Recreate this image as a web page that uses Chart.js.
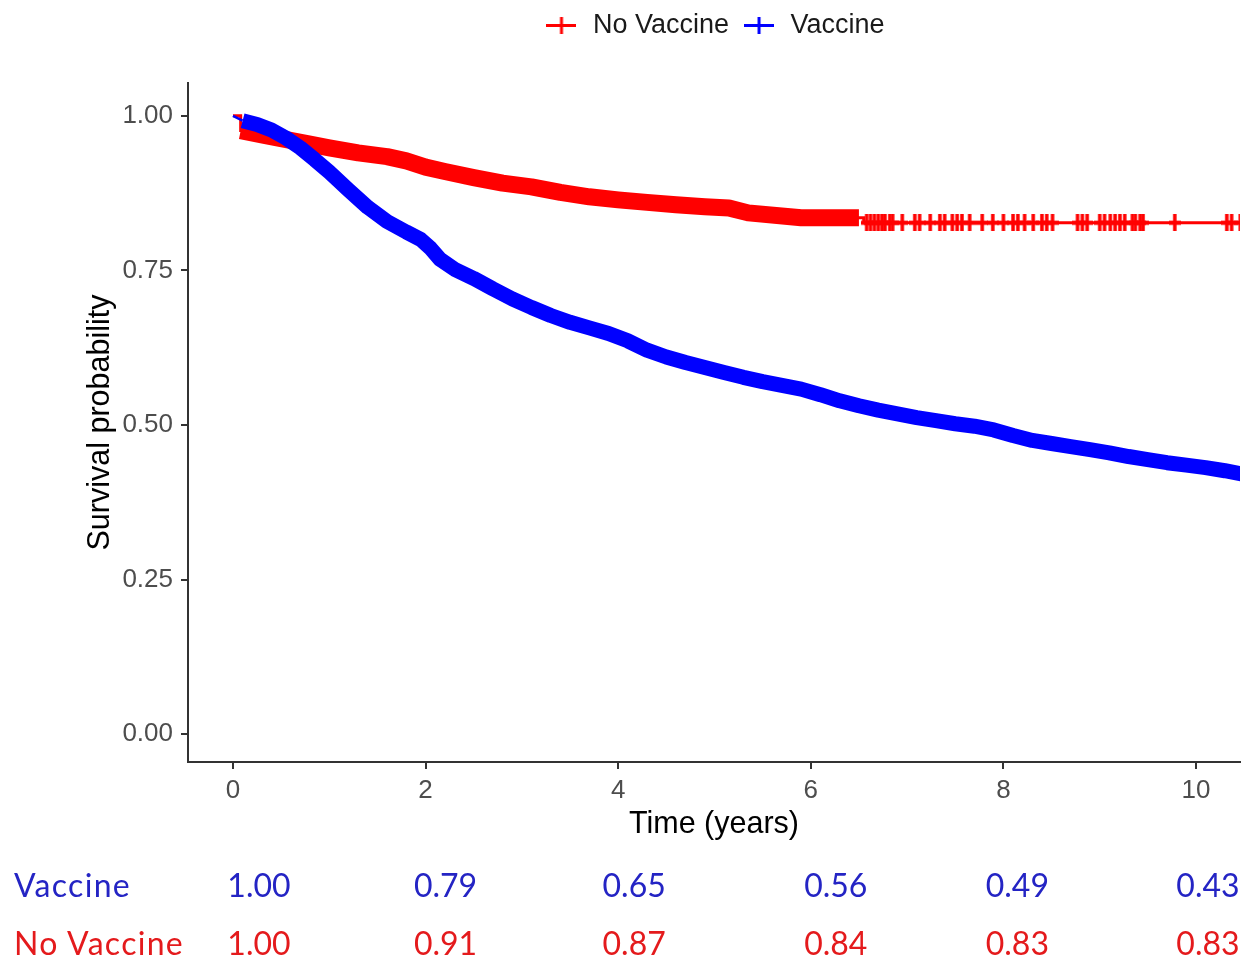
<!DOCTYPE html>
<html><head><meta charset="utf-8">
<script src="https://cdn.jsdelivr.net/npm/chart.js@4.4.1/dist/chart.umd.min.js"></script>
<style>
html,body{margin:0;padding:0;background:#fff;}
#wrap{position:relative;width:1247px;height:963px;overflow:hidden;}
#c{position:absolute;left:0;top:0;}
.risk{position:absolute;font-family:Lato,"Open Sans",sans-serif;font-size:32px;line-height:32px;white-space:nowrap;}
.risk.lbl{letter-spacing:1.3px;}
</style></head><body>
<div id="wrap"><canvas id="c" width="1247" height="963"></canvas><div id="table"></div></div>
<script>
// ---- data ----
const xTicks = [0, 2, 4, 6, 8, 10];
const yTicks = [0, 0.25, 0.5, 0.75, 1];

const vaccineTime = [0, 0.1, 0.25, 0.4, 0.55, 0.7, 0.85, 1.0, 1.2, 1.4, 1.6, 1.8, 1.95, 2.05, 2.15, 2.3, 2.5, 2.7, 2.9, 3.1, 3.3, 3.5, 3.7, 3.9, 4.1, 4.3, 4.5, 4.7, 4.9, 5.1, 5.3, 5.5, 5.7, 5.9, 6.1, 6.3, 6.5, 6.7, 6.9, 7.1, 7.3, 7.5, 7.7, 7.9, 8.1, 8.3, 8.5, 8.7, 8.9, 9.1, 9.3, 9.5, 9.7, 9.9, 10.1, 10.3, 10.5];
const vaccineSurv = [1.000, 0.992, 0.986, 0.977, 0.964, 0.948, 0.929, 0.909, 0.880, 0.852, 0.829, 0.812, 0.800, 0.786, 0.768, 0.752, 0.737, 0.720, 0.704, 0.690, 0.677, 0.666, 0.657, 0.648, 0.636, 0.621, 0.610, 0.601, 0.593, 0.585, 0.577, 0.570, 0.564, 0.558, 0.549, 0.539, 0.531, 0.524, 0.518, 0.512, 0.507, 0.502, 0.498, 0.492, 0.483, 0.475, 0.470, 0.465, 0.460, 0.455, 0.449, 0.444, 0.439, 0.435, 0.431, 0.426, 0.420];

const noVaccineTime = [0, 0.08, 0.3, 0.5, 0.8, 1.0, 1.3, 1.6, 1.8, 2.0, 2.2, 2.5, 2.8, 3.1, 3.4, 3.7, 4.0, 4.3, 4.6, 4.9, 5.15, 5.35, 5.9, 6.5, 6.55, 10.5];
const noVaccineSurv = [1.000, 0.976, 0.969, 0.963, 0.954, 0.948, 0.940, 0.934, 0.927, 0.917, 0.910, 0.900, 0.891, 0.885, 0.876, 0.869, 0.864, 0.860, 0.856, 0.853, 0.851, 0.843, 0.835, 0.835, 0.827, 0.827];
const noVaccineCensorTime = [6.58, 6.62, 6.66, 6.70, 6.74, 6.77, 6.82, 6.85, 6.95, 7.08, 7.13, 7.24, 7.34, 7.39, 7.47, 7.52, 7.57, 7.65, 7.78, 7.89, 8.00, 8.10, 8.15, 8.22, 8.31, 8.40, 8.45, 8.51, 8.77, 8.82, 8.87, 9.00, 9.05, 9.11, 9.16, 9.21, 9.26, 9.34, 9.37, 9.42, 9.45, 9.78, 10.32, 10.37, 10.46];

const riskTimes = [0, 2, 4, 6, 8, 10];
const riskVaccine = ['1.00', '0.79', '0.65', '0.56', '0.49', '0.43'];
const riskNoVaccine = ['1.00', '0.91', '0.87', '0.84', '0.83', '0.83'];

// ---- layout / style ----
const RED = '#ff0000', BLUE = '#0000ff';
const TXT_BLUE = '#2424c4', TXT_RED = '#e41a1c';
const FONT = '"Liberation Sans", Arial, sans-serif';
const bandRange = { vaccine: [0.1, 10.5], noVaccine: [0.08, 6.5] };
const thinStartRange = [0, 0.1];
const riskNudge = [26, 20, 16, 25, 14, 12];

function pts(times, vals) { return times.map((t, i) => ({ x: t, y: vals[i] })); }
function inRange(p, r) { return p.x >= r[0] - 1e-9 && p.x <= r[1] + 1e-9; }
function stepAt(times, vals, t) { let v = vals[0]; for (let i = 0; i < times.length; i++) { if (times[i] <= t) v = vals[i]; } return v; }
function crossIcon(color, w, h, lw, hw) {
  const c = document.createElement('canvas'); c.width = w; c.height = h;
  const g = c.getContext('2d'); g.strokeStyle = color;
  g.lineWidth = hw; g.beginPath(); g.moveTo(0, h / 2); g.lineTo(w, h / 2); g.stroke();
  g.lineWidth = lw; g.beginPath(); g.moveTo(w / 2, 0); g.lineTo(w / 2, h); g.stroke();
  return c;
}
const redMark = crossIcon(RED, 12, 17, 3.5, 4);
const redLegend = crossIcon(RED, 30, 17, 3, 3);
const blueLegend = crossIcon(BLUE, 30, 17, 3, 3);

const vacPts = pts(vaccineTime, vaccineSurv);
const noPts = pts(noVaccineTime, noVaccineSurv);
const censorPts = noVaccineCensorTime.map(t => ({ x: t, y: stepAt(noVaccineTime, noVaccineSurv, t) }));

const chart = new Chart(document.getElementById('c'), {
  type: 'line',
  data: {
    datasets: [
      { label: 'Vaccine', data: vacPts.filter(p => inRange(p, bandRange.vaccine)), borderColor: BLUE, borderWidth: 15, pointRadius: 0, tension: 0, borderCapStyle: 'butt', borderJoinStyle: 'round', order: 0 },
      { label: 'Vaccine start', data: vacPts.filter(p => inRange(p, thinStartRange)), borderColor: BLUE, borderWidth: 2.5, pointRadius: 0, tension: 0, order: 1 },
      { label: 'No Vaccine censored', data: censorPts, showLine: false, pointStyle: redMark, pointRadius: 6, pointHoverRadius: 6, borderColor: RED, backgroundColor: RED, order: 2 },
      { label: 'No Vaccine', data: noPts.filter(p => inRange(p, bandRange.noVaccine)), borderColor: RED, borderWidth: 17, pointRadius: 0, tension: 0, borderCapStyle: 'butt', borderJoinStyle: 'round', order: 3 },
      { label: 'No Vaccine line', data: noPts, borderColor: RED, borderWidth: 3, pointRadius: 0, stepped: true, order: 4 }
    ]
  },
  options: {
    responsive: false,
    animation: false,
    layout: { padding: { left: 82, right: 2, top: 0, bottom: 120 } },
    plugins: {
      tooltip: { enabled: false },
      title: { display: true, text: ' ', position: 'top', weight: 2000, font: { size: 10, lineHeight: 1 }, padding: { top: 0, bottom: 24 } },
      legend: {
        display: true, position: 'top', fullSize: false, weight: 3000, align: 'center',
        onClick: () => {},
        labels: {
          usePointStyle: true, pointStyleWidth: 36, boxWidth: 36, boxHeight: 27, padding: 12,
          font: { family: FONT, size: 27 }, color: '#1a1a1a',
          generateLabels: () => [
            { text: 'No Vaccine', pointStyle: redLegend, fillStyle: RED, strokeStyle: RED, lineWidth: 0, hidden: false, datasetIndex: 3, fontColor: '#1a1a1a' },
            { text: 'Vaccine', pointStyle: blueLegend, fillStyle: BLUE, strokeStyle: BLUE, lineWidth: 0, hidden: false, datasetIndex: 0, fontColor: '#1a1a1a' }
          ]
        }
      }
    },
    scales: {
      x: {
        type: 'linear', min: -0.467, max: 10.457,
        afterBuildTicks: s => { s.ticks = xTicks.map(v => ({ value: v })); },
        afterFit: s => { s.height = 81; },
        ticks: { font: { family: FONT, size: 26 }, color: '#4d4d4d', padding: 6, maxRotation: 0, autoSkip: false, callback: v => String(v) },
        grid: { drawOnChartArea: false, drawTicks: true, tickLength: 7, tickWidth: 2, tickColor: '#333', color: '#333', lineWidth: 2 },
        border: { display: true, color: '#333', width: 2 },
        title: { display: true, text: 'Time (years)', font: { family: FONT, size: 30.5 }, color: '#000', padding: 0 }
      },
      y: {
        type: 'linear', min: -0.045, max: 1.053,
        afterBuildTicks: s => { s.ticks = yTicks.map(v => ({ value: v })); },
        afterFit: s => { s.width = 106; },
        ticks: { font: { family: FONT, size: 26 }, color: '#4d4d4d', padding: 8, autoSkip: false, callback: v => Number(v).toFixed(2) },
        grid: { drawOnChartArea: false, drawTicks: true, tickLength: 7, tickWidth: 2, tickColor: '#333', color: '#333', lineWidth: 2 },
        border: { display: true, color: '#333', width: 2 },
        title: { display: true, text: 'Survival probability', font: { family: FONT, size: 30.5 }, color: '#000', padding: 0 }
      }
    }
  }
});

// ---- risk table (real text) ----
const table = document.getElementById('table');
function addText(txt, left, top, color, center, cls) {
  const d = document.createElement('div'); d.className = 'risk' + (cls ? ' ' + cls : ''); d.textContent = txt;
  d.style.left = left + 'px'; d.style.top = top + 'px'; d.style.color = color;
  if (center) d.style.transform = 'translateX(-50%)';
  table.appendChild(d);
}
const rowTop = [869, 927];
addText('Vaccine', 14, rowTop[0], TXT_BLUE, false, 'lbl');
addText('No Vaccine', 14, rowTop[1], TXT_RED, false, 'lbl');
riskTimes.forEach((t, i) => {
  const cx = chart.scales.x.getPixelForValue(t) + riskNudge[i];
  addText(riskVaccine[i], cx, rowTop[0], TXT_BLUE, true);
  addText(riskNoVaccine[i], cx, rowTop[1], TXT_RED, true);
});
</script>
</body></html>
